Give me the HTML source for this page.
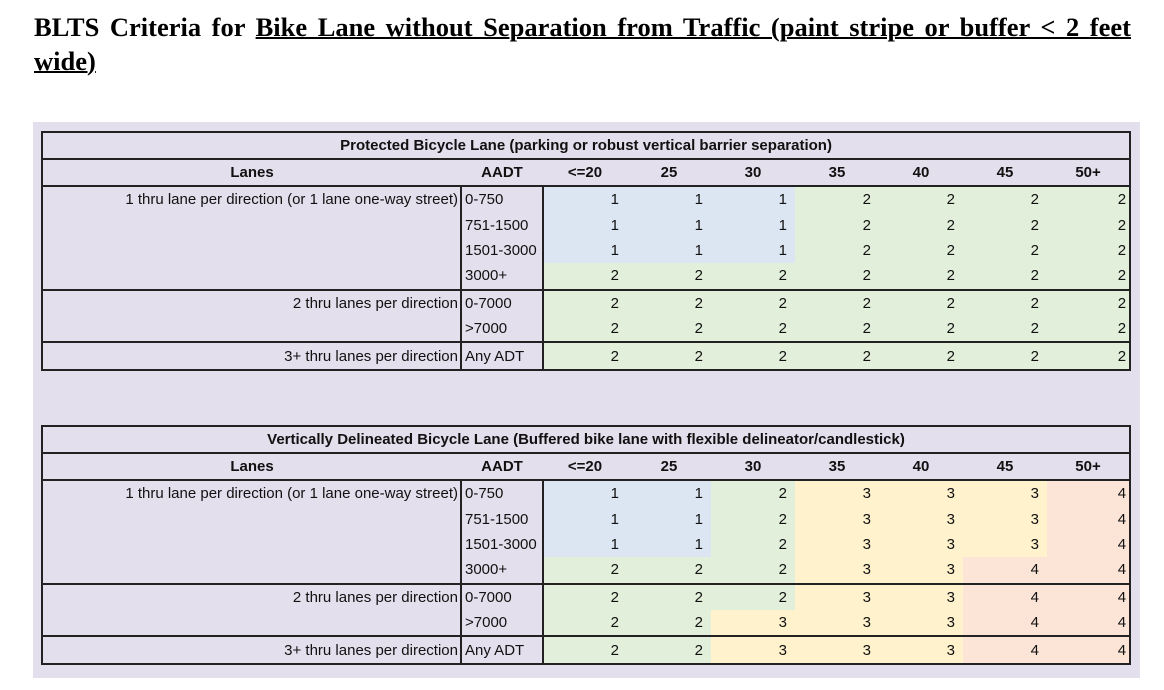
<!DOCTYPE html>
<html><head><meta charset="utf-8"><style>
body{margin:0;width:1164px;height:690px;background:#fff;position:relative;overflow:hidden;font-family:"Liberation Sans",sans-serif}
h1{position:absolute;left:34px;top:10px;margin:0;width:1097px;text-align:justify;font:bold 26.5px/34px "Liberation Serif",serif;color:#000}
h1 u{text-decoration-thickness:2px}
.panel{position:absolute;left:33px;top:122px;width:1107px;height:556px;background:#e4dfec}
table{position:absolute;left:41px;border-collapse:collapse;table-layout:fixed;width:1088px;font-size:15px;line-height:17px;color:#111}
td{padding:0;height:25.4px;white-space:nowrap;overflow:hidden}
tr.t td{height:25px;text-align:center;font-weight:bold;border:2px solid #222}
tr.h td{height:25px;font-weight:bold;text-align:center;border-bottom:2px solid #222}
td.l{text-align:right;border-left:2px solid #222;border-right:2px solid #222;padding-right:2px}
td.a{border-right:2px solid #222;padding-left:3px}
td.n{text-align:right;padding-right:8px}
td.z{text-align:right;padding-right:3px;border-right:2px solid #222}
tr.g td{border-bottom:2px solid #222}
.B{background:#dce6f2}.G{background:#e2efda}.Y{background:#fff2cc}.S{background:#fce4d6}
</style></head><body>
<h1>BLTS Criteria for <u>Bike Lane without Separation from Traffic (paint stripe or buffer &lt; 2 feet wide)</u></h1>
<div class="panel"></div>
<table style="top:131px">
<colgroup><col style="width:419px"><col style="width:82px"><col style="width:84px"><col style="width:84px"><col style="width:84px"><col style="width:84px"><col style="width:84px"><col style="width:84px"><col style="width:83px"></colgroup>
<tr class="t"><td colspan="9">Protected Bicycle Lane (parking or robust vertical barrier separation)</td></tr>
<tr class="h"><td style="border-left:2px solid #222">Lanes</td><td>AADT</td><td>&lt;=20</td><td>25</td><td>30</td><td>35</td><td>40</td><td>45</td><td style="border-right:2px solid #222">50+</td></tr>
<tr><td class="l">1 thru lane per direction (or 1 lane one-way street)</td><td class="a">0-750</td><td class="n B">1</td><td class="n B">1</td><td class="n B">1</td><td class="n G">2</td><td class="n G">2</td><td class="n G">2</td><td class="z G">2</td></tr>
<tr><td class="l"></td><td class="a">751-1500</td><td class="n B">1</td><td class="n B">1</td><td class="n B">1</td><td class="n G">2</td><td class="n G">2</td><td class="n G">2</td><td class="z G">2</td></tr>
<tr><td class="l"></td><td class="a">1501-3000</td><td class="n B">1</td><td class="n B">1</td><td class="n B">1</td><td class="n G">2</td><td class="n G">2</td><td class="n G">2</td><td class="z G">2</td></tr>
<tr class="g"><td class="l"></td><td class="a">3000+</td><td class="n G">2</td><td class="n G">2</td><td class="n G">2</td><td class="n G">2</td><td class="n G">2</td><td class="n G">2</td><td class="z G">2</td></tr>
<tr><td class="l">2 thru lanes per direction</td><td class="a">0-7000</td><td class="n G">2</td><td class="n G">2</td><td class="n G">2</td><td class="n G">2</td><td class="n G">2</td><td class="n G">2</td><td class="z G">2</td></tr>
<tr class="g"><td class="l"></td><td class="a">&gt;7000</td><td class="n G">2</td><td class="n G">2</td><td class="n G">2</td><td class="n G">2</td><td class="n G">2</td><td class="n G">2</td><td class="z G">2</td></tr>
<tr class="g"><td class="l">3+ thru lanes per direction</td><td class="a">Any ADT</td><td class="n G">2</td><td class="n G">2</td><td class="n G">2</td><td class="n G">2</td><td class="n G">2</td><td class="n G">2</td><td class="z G">2</td></tr>
</table>
<table style="top:425px">
<colgroup><col style="width:419px"><col style="width:82px"><col style="width:84px"><col style="width:84px"><col style="width:84px"><col style="width:84px"><col style="width:84px"><col style="width:84px"><col style="width:83px"></colgroup>
<tr class="t"><td colspan="9">Vertically Delineated Bicycle Lane (Buffered bike lane with flexible delineator/candlestick)</td></tr>
<tr class="h"><td style="border-left:2px solid #222">Lanes</td><td>AADT</td><td>&lt;=20</td><td>25</td><td>30</td><td>35</td><td>40</td><td>45</td><td style="border-right:2px solid #222">50+</td></tr>
<tr><td class="l">1 thru lane per direction (or 1 lane one-way street)</td><td class="a">0-750</td><td class="n B">1</td><td class="n B">1</td><td class="n G">2</td><td class="n Y">3</td><td class="n Y">3</td><td class="n Y">3</td><td class="z S">4</td></tr>
<tr><td class="l"></td><td class="a">751-1500</td><td class="n B">1</td><td class="n B">1</td><td class="n G">2</td><td class="n Y">3</td><td class="n Y">3</td><td class="n Y">3</td><td class="z S">4</td></tr>
<tr><td class="l"></td><td class="a">1501-3000</td><td class="n B">1</td><td class="n B">1</td><td class="n G">2</td><td class="n Y">3</td><td class="n Y">3</td><td class="n Y">3</td><td class="z S">4</td></tr>
<tr class="g"><td class="l"></td><td class="a">3000+</td><td class="n G">2</td><td class="n G">2</td><td class="n G">2</td><td class="n Y">3</td><td class="n Y">3</td><td class="n S">4</td><td class="z S">4</td></tr>
<tr><td class="l">2 thru lanes per direction</td><td class="a">0-7000</td><td class="n G">2</td><td class="n G">2</td><td class="n G">2</td><td class="n Y">3</td><td class="n Y">3</td><td class="n S">4</td><td class="z S">4</td></tr>
<tr class="g"><td class="l"></td><td class="a">&gt;7000</td><td class="n G">2</td><td class="n G">2</td><td class="n Y">3</td><td class="n Y">3</td><td class="n Y">3</td><td class="n S">4</td><td class="z S">4</td></tr>
<tr class="g"><td class="l">3+ thru lanes per direction</td><td class="a">Any ADT</td><td class="n G">2</td><td class="n G">2</td><td class="n Y">3</td><td class="n Y">3</td><td class="n Y">3</td><td class="n S">4</td><td class="z S">4</td></tr>
</table>
</body></html>
